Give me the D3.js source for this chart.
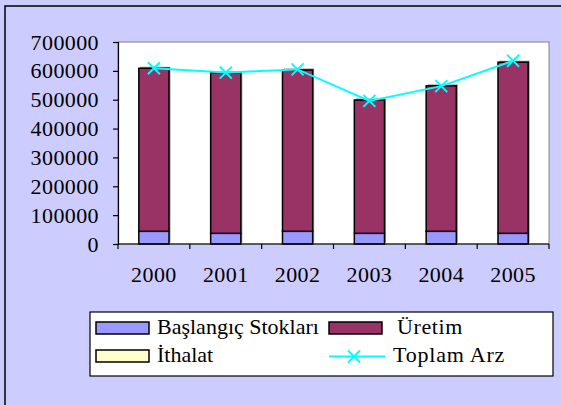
<!DOCTYPE html>
<html>
<head>
<meta charset="utf-8">
<script src="https://cdn.jsdelivr.net/npm/d3@7.9.0/dist/d3.min.js"></script>
<style>
  html, body { margin: 0; padding: 0; background: #CCCCFF; }
  svg text { font-family: 'Liberation Serif', 'Times New Roman', Tinos, 'DejaVu Serif', serif; }
</style>
</head>
<body>
<svg width="561" height="405"></svg>
<script>
// data
const years = ['2000', '2001', '2002', '2003', '2004', '2005'];
const baslangic = [44000, 37000, 44000, 37000, 44000, 37000];
const uretim = [565000, 556000, 559000, 462000, 504000, 593000];
const ithalat = [0, 0, 0, 0, 0, 0];
const toplamArz = [609000, 594000, 605000, 496000, 547000, 635000];
const yTicks = [0, 100000, 200000, 300000, 400000, 500000, 600000, 700000];

const seriesNames = ['Başlangıç Stokları', 'Üretim', 'İthalat'];
const seriesColors = ['#9999FF', '#993366', '#FFFFCC'];
const lineColor = '#00FFFF';
const serif = "'Liberation Serif', 'Times New Roman', Tinos, 'DejaVu Serif', serif";

const svg = d3.select('svg');

// outer frame (runs off the right / bottom edge)
svg.append('rect')
  .attr('x', 5).attr('y', 6)
  .attr('width', 600).attr('height', 450)
  .attr('fill', '#CCCCFF')
  .attr('stroke', '#000').attr('stroke-width', 1.5);

const plot = { left: 118, right: 549, top: 42, bottom: 244 };

let x = d3.scaleBand().domain(years).range([plot.left, plot.right]).paddingInner(0.58).paddingOuter(0.29);
let xCat = d3.scaleBand().domain(years).range([plot.left, plot.right]);
let y = d3.scaleLinear().domain([0, 700000]).range([plot.bottom, plot.top]);

// plot area
svg.append('rect')
  .attr('x', plot.left).attr('y', plot.top)
  .attr('width', plot.right - plot.left).attr('height', plot.bottom - plot.top)
  .attr('fill', '#fff').attr('stroke', '#808080').attr('stroke-width', 1);

// stacked bars
let table = years.map((yr, i) => ({
  year: yr,
  [seriesNames[0]]: baslangic[i],
  [seriesNames[1]]: uretim[i],
  [seriesNames[2]]: ithalat[i]
}));
let stacked = d3.stack().keys(seriesNames)(table);

// little grey shadow behind each bar
svg.append('g').selectAll('rect')
  .data(table)
  .join('rect')
  .attr('x', (d) => x(d.year) + 1.5)
  .attr('y', (d, i) => y(baslangic[i] + uretim[i] + ithalat[i]) - 1.5)
  .attr('width', x.bandwidth())
  .attr('height', (d, i) => y(0) - y(baslangic[i] + uretim[i] + ithalat[i]))
  .attr('fill', '#999');

stacked.forEach((layer, k) => {
  svg.append('g').selectAll('rect')
    .data(layer.filter((d) => d[1] > d[0]))
    .join('rect')
    .attr('x', (d) => x(d.data.year))
    .attr('y', (d) => y(d[1]))
    .attr('width', x.bandwidth())
    .attr('height', (d) => y(d[0]) - y(d[1]))
    .attr('fill', seriesColors[k])
    .attr('stroke', '#000')
    .attr('stroke-width', 1.5);
});

// axes
let yAxis = d3.axisLeft(y).tickValues(yTicks).tickSize(5).tickPadding(14).tickFormat(d3.format('d'));
let gy = svg.append('g').attr('transform', `translate(${plot.left},0)`).call(yAxis)
  .attr('font-family', serif).attr('font-size', 22);
gy.select('.domain').attr('stroke', '#000').attr('stroke-width', 1.2);
gy.selectAll('line').attr('stroke', '#000').attr('stroke-width', 1.2);
gy.selectAll('text').attr('fill', '#000').attr('letter-spacing', 0.4);

let gx = svg.append('g').attr('transform', `translate(0,${plot.bottom})`);
gx.append('line')
  .attr('x1', plot.left).attr('x2', plot.right)
  .attr('y1', 0).attr('y2', 0)
  .attr('stroke', '#000').attr('stroke-width', 1.2);
let bounds = years.map((d) => xCat(d)).concat([plot.right]);
gx.selectAll('line.tick')
  .data(bounds)
  .join('line')
  .attr('class', 'tick')
  .attr('x1', (d) => d).attr('x2', (d) => d)
  .attr('y1', 0).attr('y2', 5)
  .attr('stroke', '#000').attr('stroke-width', 1.2);
gx.selectAll('text')
  .data(years)
  .join('text')
  .attr('x', (d) => xCat(d) + xCat.bandwidth() / 2)
  .attr('y', 38)
  .attr('text-anchor', 'middle')
  .attr('font-size', 22)
  .attr('font-family', serif)
  .attr('letter-spacing', 0.4)
  .text((d) => d);

// Toplam Arz line
let line = d3.line()
  .x((d, i) => xCat(years[i]) + xCat.bandwidth() / 2)
  .y((d) => y(d));
svg.append('path')
  .datum(toplamArz)
  .attr('d', line)
  .attr('fill', 'none')
  .attr('stroke', lineColor)
  .attr('stroke-width', 2);

function drawX(g, cx, cy, r) {
  g.append('path')
    .attr('d', `M${cx - r},${cy - r}L${cx + r},${cy + r}M${cx - r},${cy + r}L${cx + r},${cy - r}`)
    .attr('stroke', lineColor)
    .attr('stroke-width', 2)
    .attr('fill', 'none');
}
let markers = svg.append('g');
toplamArz.forEach((v, i) => {
  drawX(markers, xCat(years[i]) + xCat.bandwidth() / 2, y(v), 6);
});

// legend
let legend = svg.append('g');
legend.append('rect')
  .attr('x', 90).attr('y', 312)
  .attr('width', 463).attr('height', 64)
  .attr('fill', '#fff').attr('stroke', '#000').attr('stroke-width', 1.2);

let legendItems = [
  { label: seriesNames[0], color: seriesColors[0], sx: 96, tx: 157, row: 0 },
  { label: seriesNames[1], color: seriesColors[1], sx: 329, tx: 397, row: 0 },
  { label: seriesNames[2], color: seriesColors[2], sx: 96, tx: 157, row: 1 }
];
legendItems.forEach((d) => {
  let top = 322 + d.row * 28;
  legend.append('rect')
    .attr('x', d.sx).attr('y', top)
    .attr('width', 53).attr('height', 12)
    .attr('fill', d.color).attr('stroke', '#000').attr('stroke-width', 1.5);
  legend.append('text')
    .attr('x', d.tx).attr('y', top + 12)
    .attr('font-size', 22)
    .attr('font-family', serif)
    .attr('letter-spacing', d.row === 0 && d.sx > 200 ? 0.6 : 0)
    .text(d.label);
});
legend.append('line')
  .attr('x1', 329).attr('x2', 385)
  .attr('y1', 356.5).attr('y2', 356.5)
  .attr('stroke', lineColor).attr('stroke-width', 2);
drawX(legend, 354, 356.5, 6);
legend.append('text')
  .attr('x', 393).attr('y', 362)
  .attr('font-size', 22)
  .attr('font-family', serif)
  .attr('letter-spacing', 0.8)
  .text('Toplam Arz');
</script>
</body>
</html>
